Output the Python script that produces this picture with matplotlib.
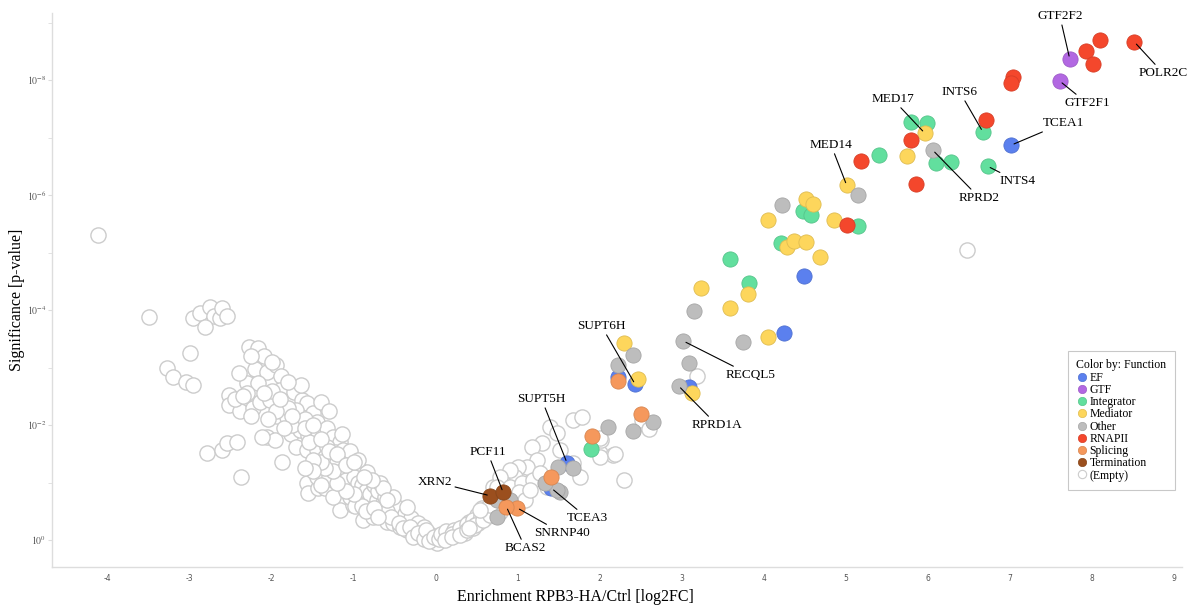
import numpy as np
import matplotlib.pyplot as plt
from matplotlib.lines import Line2D
from matplotlib.colors import to_rgb

plt.rcParams['font.family'] = ['Liberation Serif', 'DejaVu Serif']
plt.rcParams['mathtext.fontset'] = 'stix'

# enrichment (log2FC) and -log10(p) per functional group
ef_x = [7.02, 4.49, 4.24, 2.22, 2.43, 3.09, 1.60, 1.41]
ef_y = [6.87, 4.59, 3.60, 2.83, 2.71, 2.66, 1.34, 0.90]

gtf_x = [7.73, 7.61]
gtf_y = [8.37, 7.98]

integrator_x = [6.67, 6.73, 5.80, 5.99, 5.40, 6.10, 6.28, 4.48, 4.57, 5.15, 4.21, 3.59, 3.82, 1.89]
integrator_y = [7.10, 6.50, 7.27, 7.25, 6.70, 6.56, 6.57, 5.72, 5.65, 5.46, 5.16, 4.89, 4.47, 1.58]

mediator_x = [5.96, 5.74, 5.01, 4.52, 4.60, 4.05, 4.85, 4.28, 4.37, 4.51, 4.69, 3.81, 3.23, 3.59,
              4.05, 2.30, 2.46, 3.12]
mediator_y = [7.08, 6.68, 6.17, 5.93, 5.84, 5.57, 5.57, 5.10, 5.20, 5.18, 4.92, 4.28, 4.38, 4.03,
              3.53, 3.43, 2.80, 2.56]

other_x = [6.06, 5.15, 4.22, 3.15, 3.74, 3.02, 2.40, 2.22, 3.09, 2.96, 2.65, 2.40, 2.10, 1.49,
           1.67, 1.37, 1.51, 0.74, 0.74, 0.90, 1.48, 1.33]
other_y = [6.78, 6.00, 5.83, 3.98, 3.44, 3.46, 3.22, 3.04, 3.08, 2.68, 2.05, 1.90, 1.97, 1.27,
           1.25, 1.01, 0.83, 0.40, 0.70, 0.70, 0.87, 0.99]

rnapii_x = [8.52, 8.10, 7.93, 8.01, 7.04, 7.02, 6.71, 5.80, 5.18, 5.85, 5.01]
rnapii_y = [8.66, 8.70, 8.50, 8.28, 8.05, 7.95, 7.30, 6.96, 6.59, 6.19, 5.48]

splicing_x = [2.22, 2.50, 1.91, 1.41, 0.99, 0.86]
splicing_y = [2.77, 2.19, 1.81, 1.10, 0.56, 0.58]

termination_x = [0.66, 0.82]
termination_y = [0.77, 0.83]

empty_x = [-4.12, -3.50, -3.00, -3.28, -3.21, -3.05, -2.96, -2.96, -2.88, -2.76, -2.70, -2.63,
           -2.61, -2.55, -2.82, -2.28, -2.17, -2.15, -2.20, -2.06, -1.95, -1.89, -2.30, -2.17,
           -2.52, -2.52, -2.39, -2.23, -2.15, -2.02, -1.90, -1.73, -1.63, -1.57, -1.94, -1.82,
           -1.70, -1.50, -1.45, -2.06, -1.96, -1.77, -1.66, -1.56, -1.45, -1.33, -1.26, -1.17,
           -1.88, -1.70, -1.57, -1.45, -1.33, -1.23, -1.13, -1.09, -1.01, -0.93, -0.84, -1.57,
           -1.56, -1.44, -1.35, -1.26, -1.17, -1.05, -0.96, -0.89, -1.17, -1.01, -0.89, -0.80,
           -0.77, -0.68, -0.60, -0.52, -0.44, -0.35, -0.28, -0.20, -0.11, -0.04, 0.01, 0.09,
           0.17, 0.26, 0.33, 0.41, 0.50, 0.56, 0.70, -2.79, -2.61, -2.55, -2.43, -2.37, -2.12,
           -1.80, -1.75, -1.60, -1.55, -1.40, -1.35, -1.30, -1.20, -1.15, -1.10, -1.00, -0.95,
           -0.90, -0.85, -0.80, -0.75, -0.72, -0.70, -0.65, -0.62, -0.58, -0.55, -0.50, -0.48,
           -0.45, -0.40, -0.38, -0.33, -0.30, -0.25, -0.22, -0.18, -0.15, -0.10, -0.06, -1.45,
           -1.30, -1.25, -1.05, -0.98, -1.40, -1.30, -1.65, -1.80, -2.00, -2.30, -2.40, -2.45,
           -1.95, -2.05, -1.15, -1.05, -0.95, -0.68, -0.52, -0.35,
           -0.60, -0.55, -0.45, -0.40, -0.32, -0.28, -0.22, -0.15, -0.12, -0.08, -0.02, 0.04,
           0.06, 0.14, 0.12, 0.22, 0.20, 0.30, 0.35, 0.38, 0.45, 0.45, 0.52, 0.55, 0.60, 0.62,
           0.70, 0.72, 0.80, 0.85, 0.95, 1.00, 1.10, 1.20,
           -0.90, -0.85, -0.75, -0.70, -0.65, -0.60, -0.78, -0.88, -1.00, -1.10, -1.20, -1.25,
           -1.35, -1.40, -1.50, -1.30, -1.20, -1.10, -1.00, -1.40, -1.50, -1.60,
           -1.60, -1.50, -1.75, -1.85, -1.90, -2.10, -2.25, -2.35, -2.10, -2.00, -2.25,
           1.39, 1.67, 1.78, 1.48, 1.30, 1.51, 1.17, 1.23, 1.11, 1.00, 0.96, 0.90, 0.82, 0.78,
           0.74, 0.90, 1.05, 1.18, 1.27, 1.35, 1.67, 1.76, 2.00, 2.16, 2.30, 2.02, 2.00, 2.52,
           2.60, 2.00, 2.18, 3.18, 6.48, 0.11, 0.20, 0.29, 0.38, 0.48, 0.57, 0.66, 0.78, 0.87,
           0.96, 1.02, 0.66, 0.54, 1.09, 1.15, 0.41]
empty_y = [5.30, 3.88, 3.25, 2.99, 2.83, 2.75, 2.70, 3.86, 3.95, 4.05, 3.90, 3.86,
           4.03, 3.90, 3.70, 3.36, 3.34, 3.13, 2.97, 2.92, 3.04, 2.85, 2.73, 2.73,
           2.52, 2.35, 2.24, 2.30, 2.40, 2.43, 2.61, 2.57, 2.43, 2.38, 2.16, 2.14,
           2.26, 2.21, 2.05, 1.79, 1.74, 1.84, 1.91, 1.83, 1.91, 1.95, 1.79, 1.70,
           1.36, 1.62, 1.57, 1.57, 1.62, 1.53, 1.57, 1.43, 1.27, 1.22, 1.18, 0.99,
           0.82, 0.90, 0.90, 1.04, 0.92, 0.99, 0.87, 0.75, 0.52, 0.61, 0.35, 0.52,
           0.40, 0.47, 0.31, 0.30, 0.23, 0.17, 0.12, 0.09, 0.03, 0.00, -0.05, 0.05,
           0.12, 0.14, 0.23, 0.31, 0.43, 0.56, 0.92, 1.51, 1.57, 1.69, 1.70, 1.10, 1.79,
           2.30, 2.00, 2.10, 1.70, 1.75, 1.45, 1.30, 1.35, 1.20, 1.05, 1.10, 1.00,
           0.95, 0.85, 0.80, 0.95, 0.70, 0.85, 0.65, 0.75, 0.55, 0.65, 0.50, 0.40,
           0.55, 0.35, 0.45, 0.30, 0.38, 0.22, 0.30, 0.15, 0.22, 0.12, 0.08, 1.10,
           1.10, 0.75, 0.75, 0.60, 2.40, 2.25, 2.70, 2.75, 2.60, 2.55, 2.90, 2.45,
           2.25, 2.10, 1.85, 1.55, 1.40, 0.99, 0.75, 0.57,
           0.50, 0.40, 0.30, 0.20, 0.22, 0.05, 0.12, 0.02, 0.18, -0.02, 0.05, 0.02,
           0.10, 0.06, 0.15, 0.18, 0.10, 0.20, 0.12, 0.28, 0.35, 0.20, 0.30, 0.42, 0.38, 0.55,
           0.50, 0.62, 0.70, 0.80, 0.85, 0.95, 1.05, 1.15,
           0.60, 0.50, 0.55, 0.40, 0.90, 0.70, 1.05, 1.10, 0.80, 0.85, 1.00, 1.20,
           1.25, 1.35, 1.40, 1.55, 1.50, 1.30, 1.35, 0.95, 1.20, 1.25,
           1.95, 2.00, 2.15, 1.95, 2.45, 2.55, 2.15, 2.50, 3.20, 3.10, 3.20,
           1.97, 2.09, 2.14, 1.86, 1.69, 1.57, 1.62, 1.39, 1.27, 1.27, 1.10, 1.22, 0.99, 1.10,
           0.92, 0.92, 0.99, 1.04, 1.17, 0.92, 1.34, 1.10, 1.51, 1.48, 1.04, 1.74, 1.77, 2.09,
           1.93, 1.44, 1.50, 2.85, 5.04, 0.00, 0.05, 0.09, 0.17, 0.26, 0.35, 0.43, 0.49, 0.61,
           0.73, 0.83, 0.61, 0.52, 0.70, 0.87, 0.21]

groups = [
    ("EF", ef_x, ef_y, "#5b80ee"),
    ("GTF", gtf_x, gtf_y, "#b268e2"),
    ("Integrator", integrator_x, integrator_y, "#62df9e"),
    ("Mediator", mediator_x, mediator_y, "#fdd65c"),
    ("Other", other_x, other_y, "#bdbdbd"),
    ("RNAPII", rnapii_x, rnapii_y, "#f4472c"),
    ("Splicing", splicing_x, splicing_y, "#f5985c"),
    ("Termination", termination_x, termination_y, "#9b4f1e"),
]

# gene name -> (point, label position)
labels = {
    "GTF2F2": ((7.73, 8.37), (7.61, 9.11)),
    "POLR2C": ((8.52, 8.66), (8.87, 8.12)),
    "GTF2F1": ((7.61, 7.98), (7.94, 7.60)),
    "TCEA1": ((7.02, 6.87), (7.65, 7.25)),
    "INTS6": ((6.67, 7.10), (6.39, 7.79)),
    "MED17": ((5.96, 7.08), (5.57, 7.67)),
    "MED14": ((5.01, 6.17), (4.82, 6.87)),
    "RPRD2": ((6.06, 6.78), (6.63, 5.95)),
    "INTS4": ((6.73, 6.50), (7.09, 6.24)),
    "SUPT6H": ((2.43, 2.71), (2.02, 3.72)),
    "RECQL5": ((3.02, 3.46), (3.84, 2.87)),
    "RPRD1A": ((2.96, 2.68), (3.43, 2.00)),
    "SUPT5H": ((1.60, 1.34), (1.29, 2.45)),
    "PCF11": ((0.82, 0.83), (0.63, 1.53)),
    "XRN2": ((0.66, 0.77), (-0.01, 1.01)),
    "TCEA3": ((1.41, 0.90), (1.85, 0.38)),
    "SNRNP40": ((0.99, 0.56), (1.54, 0.12)),
    "BCAS2": ((0.86, 0.58), (1.09, -0.14)),
}

fig = plt.figure(figsize=(11.94, 6.08), dpi=100)
ax = fig.add_axes([0.0436, 0.0674, 0.9464, 0.9116])

ms = 120
ax.scatter(empty_x, empty_y, s=ms, facecolor="white", edgecolor="#cccccc", linewidth=1.0, zorder=2)
for name, gx, gy, col in groups:
    edge = tuple(c * 0.88 for c in to_rgb(col))
    ax.scatter(gx, gy, s=ms, color=col, edgecolor=edge, linewidth=0.6, zorder=3)

for gene, (pt, txt) in labels.items():
    ax.annotate(gene, xy=pt, xytext=txt, fontsize=9.5, ha="center", va="center", zorder=4,
                arrowprops=dict(arrowstyle="-", color="black", lw=0.8, shrinkA=0, shrinkB=2))

ax.set_xlim(-4.68, 9.10)
ax.set_ylim(-0.47, 9.17)

ax.set_xticks(range(-4, 10))
ax.set_xticklabels([str(v) for v in range(-4, 10)], fontsize=5.5, color="#555555", family="DejaVu Sans")
ax.set_yticks([0, 2, 4, 6, 8])
ax.set_yticklabels(["$10^{%d}$" % (-v) if v else "$10^{0}$" for v in [0, 2, 4, 6, 8]],
                   fontsize=7, color="#555555")
ax.set_yticks([1, 3, 5, 7, 9], minor=True)
ax.tick_params(axis="x", length=0, pad=5)
ax.tick_params(axis="y", which="both", length=3, color="#dddddd", pad=1)

for s in ["top", "right"]:
    ax.spines[s].set_visible(False)
for s in ["left", "bottom"]:
    ax.spines[s].set_color("#dddddd")
    ax.spines[s].set_linewidth(1.0)

ax.set_xlabel("Enrichment RPB3-HA/Ctrl [log2FC]", fontsize=11.5)
ax.xaxis.set_label_coords(0.463, -0.040)
ax.set_ylabel("Significance [p-value]", fontsize=11.5)
ax.yaxis.set_label_coords(-0.024, 0.483)

handles = [Line2D([], [], marker="o", linestyle="", markersize=6, markerfacecolor=c,
                  markeredgecolor=tuple(v * 0.88 for v in to_rgb(c)), markeredgewidth=0.5)
           for _, _, _, c in groups]
handles.append(Line2D([], [], marker="o", linestyle="", markersize=6, markerfacecolor="white",
                      markeredgecolor="#cccccc", markeredgewidth=0.8))
names = [g[0] for g in groups] + ["(Empty)"]
leg = ax.legend(handles, names, title="Color by: Function", loc="upper left",
                bbox_to_anchor=(0.894, 0.40), fontsize=8.5, title_fontsize=8.5,
                frameon=True, fancybox=False, handletextpad=0.1, handlelength=1.0,
                labelspacing=0.02, borderpad=0.7, alignment="left")
leg.get_frame().set_edgecolor("#bbbbbb")
leg.get_frame().set_linewidth(0.8)

fig.savefig("out.png", dpi=100)
